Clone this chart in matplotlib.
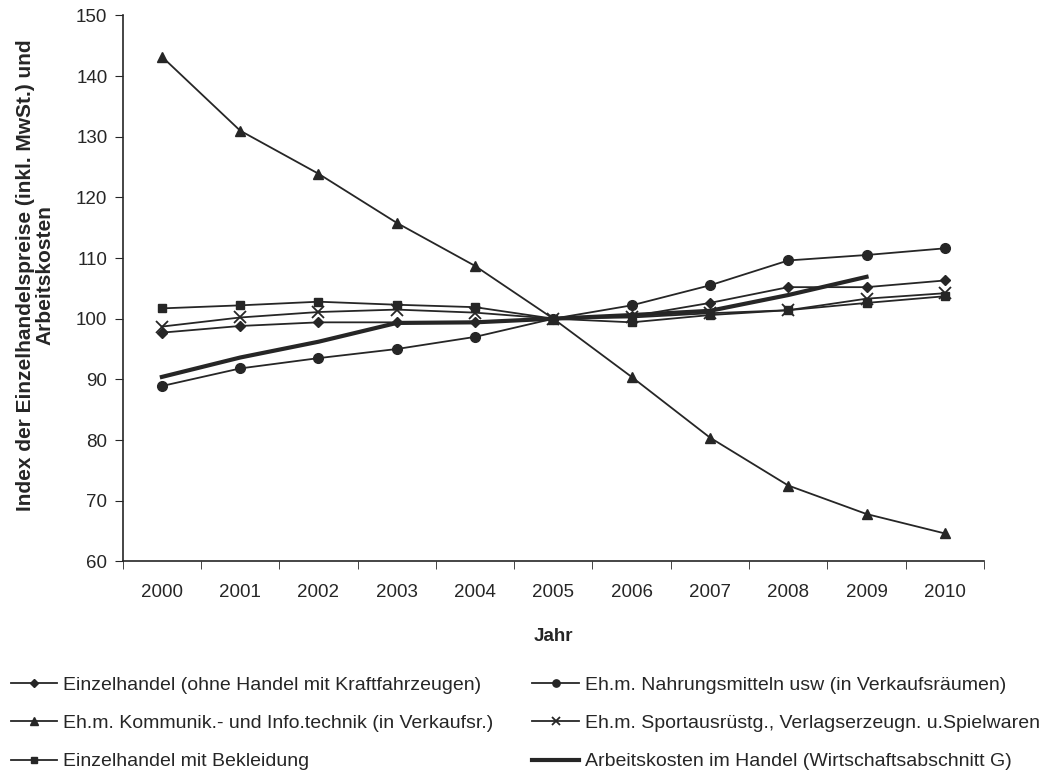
import numpy as np
import matplotlib
matplotlib.use("Agg")
import matplotlib.pyplot as plt

plt.rcParams["font.family"] = ["Liberation Sans", "DejaVu Sans"]

#Data
years = [2000, 2001, 2002, 2003, 2004, 2005, 2006, 2007, 2008, 2009, 2010]
einzelhandel = [97.7, 98.8, 99.4, 99.4, 99.4, 100.0, 100.4, 102.6, 105.2, 105.2, 106.3]
nahrungsmittel = [88.9, 91.8, 93.5, 95.0, 97.0, 100.0, 102.2, 105.5, 109.6, 110.5, 111.6]
kommunikation = [143.2, 131.0, 123.9, 115.8, 108.7, 100.0, 90.4, 80.4, 72.5, 67.8, 64.6]
sport = [98.7, 100.2, 101.1, 101.5, 101.0, 100.0, 100.2, 100.9, 101.4, 103.3, 104.2]
bekleidung = [101.7, 102.2, 102.8, 102.3, 101.9, 100.0, 99.4, 100.6, 101.4, 102.6, 103.7]
arbeitskosten = [90.4, 93.6, 96.2, 99.3, 99.4, 100.0, 100.6, 101.3, 103.9, 106.9, np.nan]

labels = [
    "Einzelhandel (ohne Handel mit Kraftfahrzeugen)",
    "Eh.m. Kommunik.- und Info.technik (in Verkaufsr.)",
    "Einzelhandel mit Bekleidung",
    "Eh.m. Nahrungsmitteln usw (in Verkaufsräumen)",
    "Eh.m. Sportausrüstg., Verlagserzeugn. u.Spielwaren",
    "Arbeitskosten im Handel (Wirtschaftsabschnitt G)",
]

col = "#262626"
fig = plt.figure(figsize=(10.49, 7.70), dpi=100)
ax = fig.add_axes([0.117, 0.271, 0.821, 0.709])

x = np.arange(len(years))
ax.plot(x, einzelhandel, color=col, lw=1.3, marker="D", ms=5, label=labels[0])
ax.plot(x, kommunikation, color=col, lw=1.3, marker="^", ms=7, label=labels[1])
ax.plot(x, bekleidung, color=col, lw=1.3, marker="s", ms=6, label=labels[2])
ax.plot(x, nahrungsmittel, color=col, lw=1.3, marker="o", ms=7, label=labels[3])
ax.plot(x, sport, color=col, lw=1.3, marker="x", ms=8, mew=1.3, label=labels[4])
ax.plot(x, arbeitskosten, color=col, lw=3, label=labels[5])

ax.set_xlim(-0.5, len(years) - 0.5)
ax.set_ylim(60, 150)
ax.set_yticks(np.arange(60, 151, 10))
ax.set_xticks(x)
ax.set_xticklabels([str(y) for y in years])
ax.set_xticks(np.arange(-0.5, len(years), 1), minor=True)
ax.tick_params(axis="x", which="major", length=0, pad=16, labelsize=13.5, colors=col)
ax.tick_params(axis="x", which="minor", length=6, direction="out", color=col)
ax.tick_params(axis="y", length=6, direction="out", labelsize=13.5, colors=col, pad=5)
for s in ["top", "right"]:
    ax.spines[s].set_visible(False)
for s in ["left", "bottom"]:
    ax.spines[s].set_color(col)
    ax.spines[s].set_linewidth(1.2)

ax.set_xlabel("Jahr", fontsize=13.5, fontweight="bold", labelpad=20, color=col)
ax.set_ylabel("Index der Einzelhandelspreise (inkl. MwSt.) und\nArbeitskosten",
              fontsize=15, fontweight="bold", color=col, linespacing=1.05)
ax.yaxis.set_label_coords(-0.079, 0.524)

ax.legend(loc="upper left", bbox_to_anchor=(-0.139, -0.197), ncol=2, frameon=False,
          fontsize=14, handlelength=2.4, handletextpad=0.3, columnspacing=2.0,
          labelspacing=1.05, borderaxespad=0, markerscale=0.75, labelcolor=col)

plt.savefig("out.png", dpi=100)
